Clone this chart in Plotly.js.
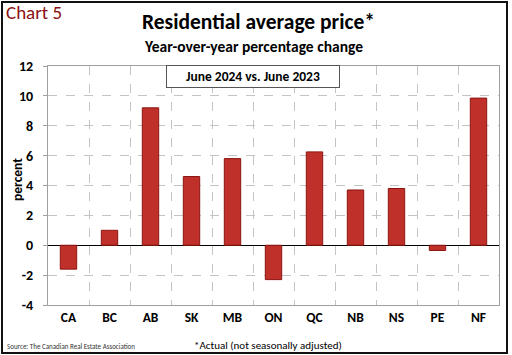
<!DOCTYPE html>
<html>
<head>
<meta charset="utf-8">
<script src="https://cdn.plot.ly/plotly-3.0.1.min.js"></script>
<style>
html,body{margin:0;padding:0;background:#fff;}
#wrap{position:relative;width:512px;height:355px;}
#chart{width:512px;height:355px;}
#frame{position:absolute;left:1px;top:1px;width:507px;height:353px;border:2px solid #111;box-sizing:border-box;pointer-events:none;}
</style>
</head>
<body>
<div id="wrap"><div id="chart"></div><div id="frame"></div></div>
<script>
const categories = ["CA","BC","AB","SK","MB","ON","QC","NB","NS","PE","NF"];
const values = [-1.6, 1.0, 9.2, 4.6, 5.8, -2.3, 6.25, 3.7, 3.8, -0.35, 9.85];
const yTicks = [-4,-2,0,2,4,6,8,10,12];

const F = "Carlito, Lato, 'Open Sans', sans-serif";

const trace = {
  type: "bar",
  x: categories,
  y: values,
  marker: {color: "#C0302A", line: {color: "#8A1510", width: 1}},
  width: 0.4,
  hoverinfo: "x+y"
};

const layout = {
  width: 512, height: 355,
  margin: {l: 48, r: 13, t: 66, b: 50},
  paper_bgcolor: "#fff", plot_bgcolor: "#fff",
  showlegend: false,
  font: {family: F, color: "#000"},
  xaxis: {
    type: "category",
    tickson: "boundaries",
    showgrid: true, gridcolor: "#c4c4c4", griddash: "dash", gridwidth: 1,
    showline: true, linecolor: "#a0a0a0", mirror: true, linewidth: 1,
    ticks: "outside", ticklen: 7, tickcolor: "rgba(0,0,0,0)",
    tickfont: {family: F, size: 13.5, color: "#000", weight: "bold"},
    range: [-0.5, 10.5],
    fixedrange: true
  },
  yaxis: {
    range: [-4, 12],
    tickvals: yTicks,
    ticktext: yTicks.map(String),
    showgrid: true, gridcolor: "#c4c4c4", griddash: "dash", gridwidth: 1,
    zeroline: true, zerolinecolor: "#000", zerolinewidth: 1.3,
    showline: true, linecolor: "#a0a0a0", mirror: true, linewidth: 1,
    ticks: "outside", ticklen: 4, tickcolor: "#a0a0a0",
    ticklabelstandoff: 7,
    tickfont: {family: F, size: 14, color: "#000", weight: "bold"},
    fixedrange: true
  },
  annotations: [
    {text: "<b>percent</b>", xref: "paper", yref: "paper", x: -31/451, y: (305-179)/239,
     xanchor: "center", yanchor: "middle", showarrow: false, textangle: -90,
     font: {family: F, size: 13.5, color: "#000"}},
    {text: "Chart 5", xref: "paper", yref: "paper", x: -48/451, y: 1 + (66-13)/239,
     xanchor: "left", yanchor: "middle", showarrow: false, xshift: 4,
     font: {family: F, size: 19, color: "#8B1010"}},
    {text: "<b>Residential average price*</b>", xref: "paper", yref: "paper", x: (258.5-48)/451, y: 1 + (66-22)/239,
     xanchor: "center", yanchor: "middle", showarrow: false,
     font: {family: F, size: 21.5, color: "#000"}},
    {text: "<b>Year-over-year percentage change</b>", xref: "paper", yref: "paper", x: (253-48)/451, y: 1 + (66-46)/239,
     xanchor: "center", yanchor: "middle", showarrow: false,
     font: {family: F, size: 15.5, color: "#000"}},
    {text: "<b>June 2024 vs. June 2023</b>", xref: "paper", yref: "paper", x: (253-48)/451, y: 1 - (77-66)/239,
     xanchor: "center", yanchor: "middle", showarrow: false,
     bgcolor: "#fff", bordercolor: "#555", borderwidth: 1, borderpad: 2, width: 168,
     font: {family: F, size: 13.5, color: "#000"}},
    {text: "Source: The Canadian Real Estate Association", xref: "paper", yref: "paper", x: -48/451, y: -(346-305)/239,
     xanchor: "left", yanchor: "middle", showarrow: false, xshift: 5,
     font: {family: F, size: 7, color: "#333"}},
    {text: "*Actual (not seasonally adjusted)", xref: "paper", yref: "paper", x: (267.5-48)/451, y: -(345-305)/239,
     xanchor: "center", yanchor: "middle", showarrow: false,
     font: {family: F, size: 11, color: "#000"}}
  ]
};

Plotly.newPlot("chart", [trace], layout, {displayModeBar: false, staticPlot: true});
</script>
</body>
</html>
